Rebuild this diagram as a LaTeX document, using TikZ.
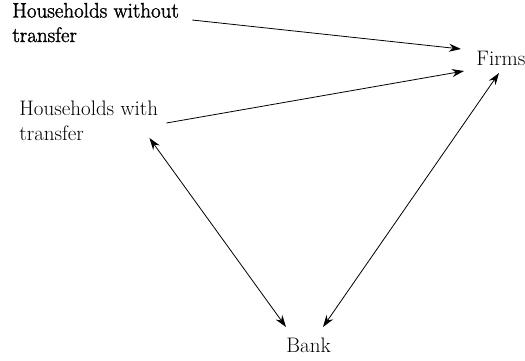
\documentclass[tikz,border=0pt]{standalone}
\usepackage{fontspec}
\newfontfamily\semib{Latin Modern Roman}[FakeBold=1.6]
\usetikzlibrary{arrows.meta, calc}

\begin{document}
\begin{tikzpicture}[x=1pt, y=-1pt, line width=0.8pt, >={Stealth[length=12pt,width=8pt]}]
\useasboundingbox (0,0) rectangle (525,360);
\begin{scope}[every node/.style={font=\fontsize{21}{24.5}\selectfont, inner sep=0pt, align=left, anchor=base west}]
\node (hwo)   at (12,42)   {\semib Households without\\\semib transfer};
\node (hw)    at (19,140)  {Households with\\transfer};
\node (firms) at (476,65)  {Firms};
\node (bank)  at (286,352) {Bank};
\end{scope}
\draw [->]  ($(hwo.base east)+(13,-22)$)  -- ($(firms.base west)+(-15,-16)$);
\draw [->]  ($(hw.base east)+(8,-17)$)   -- ($(firms.base west)+(-12,6)$);
\draw [<->] ($(hw.base east)+(-9,-2)$) -- ($(bank.base west)+(0,-25)$);
\draw [<->] ($(firms.base west)+(23,8)$) -- ($(bank.base west)+(37,-25)$);
\end{tikzpicture}
\end{document}
